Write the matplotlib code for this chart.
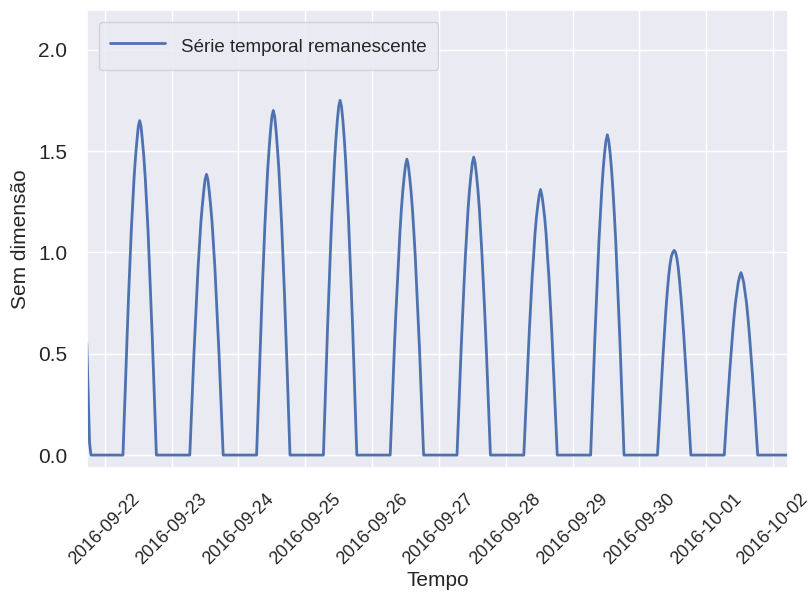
import matplotlib
matplotlib.use("Agg")
import matplotlib.pyplot as plt
import matplotlib.dates as mdates
import pandas as pd
import seaborn as sns

# half-hourly readings; nights are zero
first_values = [0.55, 0.30, 0.06]  # 2016-09-21 17:30, 18:00, 18:30
days = ["2016-09-22", "2016-09-23", "2016-09-24", "2016-09-25", "2016-09-26",
        "2016-09-27", "2016-09-28", "2016-09-29", "2016-09-30", "2016-10-01"]
# 07:00 .. 18:00 every 30 min, for each day
sep22 = [0.20, 0.40, 0.59, 0.78, 0.94, 1.11, 1.24, 1.37, 1.47, 1.55, 1.62, 1.65,
         1.62, 1.55, 1.47, 1.37, 1.24, 1.11, 0.94, 0.78, 0.59, 0.40, 0.20]
sep23 = [0.17, 0.33, 0.50, 0.65, 0.79, 0.93, 1.04, 1.15, 1.23, 1.30, 1.36, 1.385,
         1.36, 1.30, 1.23, 1.15, 1.04, 0.93, 0.79, 0.65, 0.50, 0.33, 0.17]
sep24 = [0.20, 0.41, 0.61, 0.80, 0.97, 1.14, 1.28, 1.41, 1.51, 1.60, 1.67, 1.70,
         1.67, 1.60, 1.51, 1.41, 1.28, 1.14, 0.97, 0.80, 0.61, 0.41, 0.20]
sep25 = [0.21, 0.42, 0.63, 0.82, 1.00, 1.17, 1.31, 1.45, 1.56, 1.65, 1.72, 1.75,
         1.72, 1.65, 1.56, 1.45, 1.31, 1.17, 1.00, 0.82, 0.63, 0.42, 0.21]
sep26 = [0.18, 0.35, 0.53, 0.69, 0.83, 0.98, 1.10, 1.21, 1.30, 1.37, 1.43, 1.46,
         1.43, 1.37, 1.30, 1.21, 1.10, 0.98, 0.83, 0.69, 0.53, 0.35, 0.18]
sep27 = [0.18, 0.35, 0.53, 0.69, 0.84, 0.98, 1.10, 1.22, 1.31, 1.38, 1.44, 1.47,
         1.44, 1.38, 1.31, 1.22, 1.10, 0.98, 0.84, 0.69, 0.53, 0.35, 0.18]
sep28 = [0.16, 0.31, 0.47, 0.62, 0.75, 0.88, 0.98, 1.09, 1.17, 1.23, 1.28, 1.31,
         1.28, 1.23, 1.17, 1.09, 0.98, 0.88, 0.75, 0.62, 0.47, 0.31, 0.16]
sep29 = [0.19, 0.38, 0.57, 0.74, 0.90, 1.06, 1.19, 1.31, 1.41, 1.49, 1.55, 1.58,
         1.55, 1.49, 1.41, 1.31, 1.19, 1.06, 0.90, 0.74, 0.57, 0.38, 0.19]
sep30 = [0.12, 0.25, 0.37, 0.49, 0.60, 0.71, 0.80, 0.88, 0.94, 0.98, 1.00, 1.01,
         1.00, 0.97, 0.92, 0.85, 0.77, 0.68, 0.58, 0.47, 0.36, 0.24, 0.12]
oct01 = [0.11, 0.22, 0.32, 0.42, 0.51, 0.60, 0.68, 0.75, 0.80, 0.85, 0.88, 0.90,
         0.88, 0.85, 0.80, 0.75, 0.68, 0.60, 0.51, 0.42, 0.32, 0.22, 0.11]
daytime = [sep22, sep23, sep24, sep25, sep26, sep27, sep28, sep29, sep30, oct01]

times = pd.date_range("2016-09-21 17:30", "2016-10-02 05:30", freq="30min")
serie = pd.Series(0.0, index=times)
serie.iloc[:len(first_values)] = first_values
for day, vals in zip(days, daytime):
    idx = pd.date_range(day + " 07:00", periods=len(vals), freq="30min")
    serie[idx] = vals

sns.set_theme(style="darkgrid")
plt.rcParams["font.family"] = ["Liberation Sans", "DejaVu Sans"]

fig = plt.figure(figsize=(8.11, 5.98), dpi=100)
ax = fig.add_axes([0.107, 0.217, 0.865, 0.766])
ax.plot(serie.index, serie.values, color="#4C72B0", lw=2,
        label="Série temporal remanescente")
ax.set_xlim(times[0], times[-1])
ax.set_ylim(-0.065, 2.195)
ax.set_yticks([0.0, 0.5, 1.0, 1.5, 2.0])
ax.xaxis.set_major_locator(mdates.DayLocator())
ax.xaxis.set_major_formatter(mdates.DateFormatter("%Y-%m-%d"))
ax.tick_params(axis="x", pad=10, labelsize=13)
ax.tick_params(axis="y", pad=8, labelsize=15)
plt.setp(ax.get_xticklabels(), rotation=45)
ax.set_xlabel("Tempo", fontsize=15, labelpad=2)
ax.set_ylabel("Sem dimensão", fontsize=15, labelpad=6)
ax.legend(loc="upper left", fontsize=13.5, handlelength=2.9, handleheight=1.7,
          handletextpad=0.9, borderpad=0.6, borderaxespad=0.65)

fig.savefig("out.png", dpi=100)
